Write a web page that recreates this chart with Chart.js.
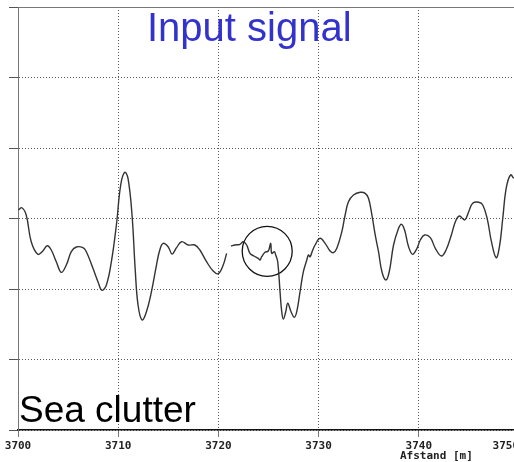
<!DOCTYPE html>
<html>
<head>
<meta charset="utf-8">
<script src="https://cdn.jsdelivr.net/npm/chart.js@4/dist/chart.umd.min.js"></script>
<style>
  html, body { margin: 0; padding: 0; background: #fff; overflow: hidden; }
  #chart { position: absolute; left: 0; top: 0; }
</style>
</head>
<body>
<canvas id="chart" width="550" height="462"></canvas>
<script>
// distance along the range [m]
const distance = [
  3700.05, 3700.38, 3700.82, 3701.32, 3701.98, 3702.48, 3702.92, 3703.32, 3703.82, 3704.32,
  3704.82, 3705.32, 3705.82, 3706.48, 3706.82, 3707.48, 3707.98, 3708.38, 3708.82, 3709.32,
  3709.82, 3710.25, 3710.65, 3710.98, 3711.38, 3711.70, 3711.98, 3712.38, 3712.82, 3713.32,
  3713.82, 3714.15, 3714.48, 3714.98, 3715.38, 3715.82, 3716.32, 3716.98, 3717.65, 3718.15,
  3718.82, 3719.48, 3719.98, 3720.48, 3720.82, 3721.00, 3721.25, 3721.65, 3722.15, 3722.48,
  3722.82, 3723.15, 3723.55, 3723.98, 3724.15, 3724.32, 3724.65, 3724.98, 3725.22, 3725.32,
  3725.58, 3725.72, 3725.92, 3726.15, 3726.32, 3726.48, 3726.72, 3726.92, 3727.25, 3727.58,
  3727.82, 3728.15, 3728.48, 3728.82, 3728.98, 3729.15, 3729.38, 3729.65, 3730.15, 3730.65,
  3731.15, 3731.48, 3731.82, 3732.32, 3732.65, 3732.98, 3733.48, 3734.15, 3734.65, 3734.98,
  3735.32, 3735.65, 3735.98, 3736.32, 3736.72, 3737.05, 3737.48, 3737.92, 3738.25, 3738.58,
  3738.98, 3739.38, 3739.82, 3740.15, 3740.58, 3741.15, 3741.65, 3742.25, 3742.72, 3743.25,
  3743.65, 3744.05, 3744.58, 3744.98, 3745.38, 3745.98, 3746.38, 3746.82, 3747.25, 3747.72,
  3748.05, 3748.38, 3748.72, 3749.15, 3749.48
];
// input signal amplitude (grid units)
const amplitude = [
  3.121, 3.153, 3.050, 2.671, 2.492, 2.539, 2.614, 2.553, 2.387, 2.237,
  2.340, 2.529, 2.596, 2.586, 2.529, 2.294, 2.104, 1.982, 2.057, 2.387,
  2.908, 3.475, 3.655, 3.570, 3.050, 2.270, 1.773, 1.560, 1.678, 1.962,
  2.340, 2.553, 2.648, 2.600, 2.496, 2.586, 2.671, 2.624, 2.624, 2.553,
  2.387, 2.255, 2.217, 2.340, 2.506, null, 2.610, 2.624, 2.634, 2.671,
  2.624, 2.506, 2.468, 2.435, 2.411, 2.458, 2.521, 2.539, 2.648, 2.506,
  2.529, 2.482, 2.387, 1.962, 1.678, 1.574, 1.678, 1.797, 1.678, 1.599,
  1.678, 1.962, 2.245, 2.411, 2.482, 2.458, 2.539, 2.624, 2.719, 2.648,
  2.539, 2.515, 2.577, 2.813, 3.050, 3.238, 3.333, 3.372, 3.357, 3.287,
  3.050, 2.766, 2.529, 2.245, 2.128, 2.245, 2.624, 2.837, 2.918, 2.837,
  2.600, 2.492, 2.577, 2.695, 2.766, 2.728, 2.577, 2.468, 2.553, 2.766,
  2.955, 3.035, 2.979, 3.096, 3.216, 3.230, 3.191, 3.003, 2.671, 2.444,
  2.600, 3.003, 3.428, 3.617, 3.570
];
// circled region
const circleX = [3724.87];
const circleY = [2.535];
const circleR = [25];

const xTicks = [3700, 3710, 3720, 3730, 3740, 3750];
// last label sits pulled in towards the left, as in the original plot
const xTickLabels = ['3700', '3710', '3720', '3730', '3740', '3750    '];
const yTicks = [0, 1, 2, 3, 4, 5, 6];

const points = distance.map((d, i) => ({ x: d, y: amplitude[i] }));
const circle = circleX.map((d, i) => ({ x: d, y: circleY[i], r: circleR[i] }));

// Text labels drawn on top of the plot
const labelsPlugin = {
  id: 'labels',
  afterDraw(chart) {
    const ctx = chart.ctx;
    const area = chart.chartArea;
    const xs = chart.scales.x;
    ctx.save();
    ctx.textBaseline = 'alphabetic';

    ctx.fillStyle = '#3333cc';
    ctx.font = '40px "Liberation Sans", Arial, sans-serif';
    ctx.textAlign = 'left';
    ctx.fillText('Input signal', 147, area.top + 34);

    ctx.fillStyle = '#000';
    ctx.font = '37px "Liberation Sans", Arial, sans-serif';
    ctx.fillText('Sea clutter', area.left + 1, area.bottom - 8);

    ctx.fillStyle = '#222';
    ctx.font = 'bold 11px "DejaVu Sans Mono", monospace';
    ctx.textAlign = 'center';
    ctx.fillText('Afstand [m]', xs.getPixelForValue(3741.75), area.bottom + 29);
    ctx.restore();
  }
};

const ctx = document.getElementById('chart').getContext('2d');
new Chart(ctx, {
  type: 'line',
  data: {
    datasets: [
      {
        label: 'Input signal',
        data: points,
        xAxisID: 'x',
        yAxisID: 'y',
        borderColor: '#333',
        borderWidth: 1.4,
        pointRadius: 0,
        tension: 0.4,
        spanGaps: false,
        fill: false
      },
      {
        type: 'bubble',
        label: 'circle',
        data: circle,
        xAxisID: 'x',
        yAxisID: 'y',
        backgroundColor: 'rgba(0,0,0,0)',
        borderColor: '#111',
        borderWidth: 1.3
      }
    ]
  },
  options: {
    responsive: false,
    animation: false,
    layout: { autoPadding: false, padding: { left: 0, right: 31, top: 7, bottom: 0 } },
    plugins: {
      legend: { display: false },
      tooltip: { enabled: false }
    },
    scales: {
      x: {
        type: 'linear',
        position: 'bottom',
        min: 3700,
        max: 3750,
        afterBuildTicks: (s) => { s.ticks = xTicks.map(v => ({ value: v })); },
        afterFit: (s) => { s.height = 32; },
        ticks: {
          padding: 3,
          maxRotation: 0,
          autoSkip: false,
          color: '#222',
          callback: (v) => xTickLabels[xTicks.indexOf(v)],
          font: { family: '"DejaVu Sans Mono", monospace', size: 11, weight: 'bold' }
        },
        grid: {
          color: 'rgba(70,70,70,0.9)',
          lineWidth: 1,
          drawTicks: true,
          tickLength: 7,
          tickColor: '#777'
        },
        border: { display: true, color: '#111', width: 1.5, dash: [1, 2] }
      },
      x2: {
        type: 'linear',
        position: 'top',
        min: 3700,
        max: 3750,
        afterFit: (s) => { s.height = 0; },
        ticks: { display: false },
        grid: { display: false },
        border: { display: true, color: '#777', width: 1 }
      },
      y: {
        type: 'linear',
        position: 'left',
        min: 0,
        max: 6,
        afterBuildTicks: (s) => { s.ticks = yTicks.map(v => ({ value: v })); },
        afterFit: (s) => { s.width = 18; },
        ticks: { display: false },
        grid: {
          color: 'rgba(70,70,70,0.9)',
          lineWidth: 1,
          drawTicks: true,
          tickLength: 9,
          tickColor: '#555'
        },
        border: { display: true, color: '#777', width: 1, dash: [1, 2] }
      }
    }
  },
  plugins: [labelsPlugin]
});
</script>
</body>
</html>
